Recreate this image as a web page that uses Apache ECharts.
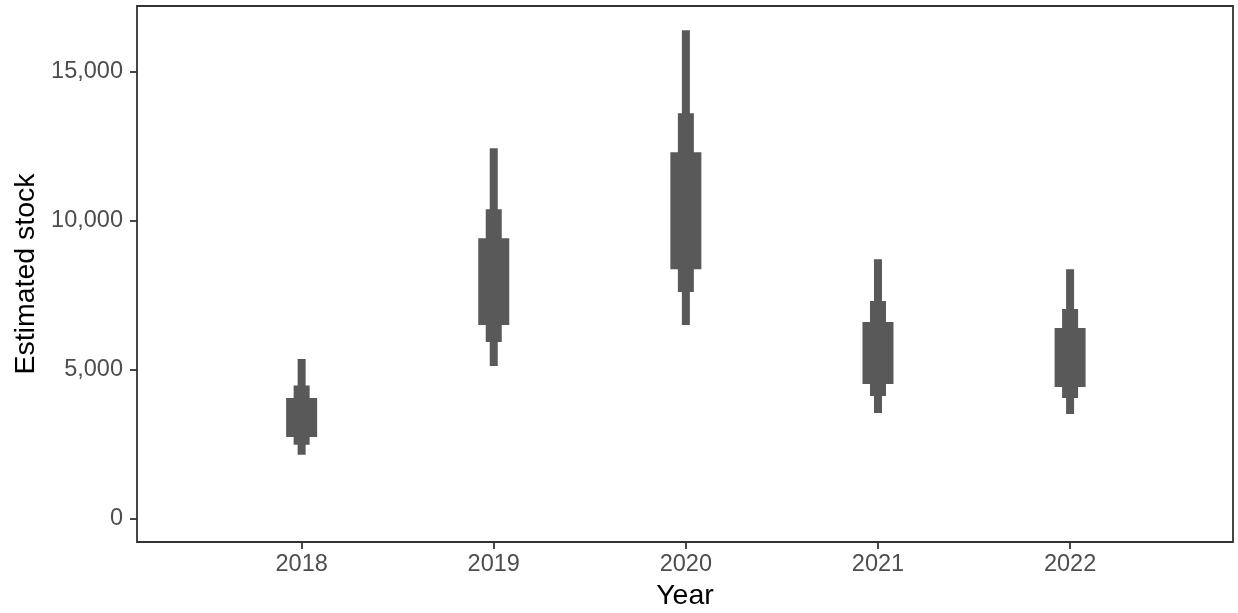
<!DOCTYPE html>
<html>
<head>
<meta charset="utf-8">
<script src="https://cdn.jsdelivr.net/npm/echarts@6/dist/echarts.min.js"></script>
<style>
html,body{margin:0;padding:0;background:#fff;}
#chart{width:1238px;height:613px;}
</style>
</head>
<body>
<div id="chart"></div>
<script>
// Data
var years = [2018, 2019, 2020, 2021, 2022];
// outer (thin) interval
var outerLo = [2145, 5117, 6491, 3542, 3509];
var outerHi = [5352, 12423, 16377, 8703, 8368];
// middle interval
var midLo = [2477, 5922, 7598, 4112, 4045];
var midHi = [4465, 10379, 13596, 7296, 7028];
// inner (thick) interval
var innerLo = [2738, 6491, 8368, 4514, 4414];
var innerHi = [4045, 9407, 12289, 6592, 6391];
var yTicks = [0, 5000, 10000, 15000];

var FONT = '"Liberation Sans", Arial, Helvetica, sans-serif';
var BAR = '#595959';

function rows(lo, hi) {
  return years.map(function (y, i) { return [y, lo[i], hi[i]]; });
}
function intervalSeries(lo, hi, width) {
  return {
    type: 'custom',
    data: rows(lo, hi),
    encode: { x: 0, y: [1, 2] },
    renderItem: function (params, api) {
      var x = api.value(0);
      var a = api.coord([x, api.value(1)]);
      var b = api.coord([x, api.value(2)]);
      return {
        type: 'rect',
        shape: { x: a[0] - width / 2, y: b[1], width: width, height: a[1] - b[1] },
        style: { fill: BAR }
      };
    },
    silent: true
  };
}

var chart = echarts.init(document.getElementById('chart'));
chart.setOption({
  animation: false,
  backgroundColor: '#ffffff',
  grid: {
    left: 137, top: 6, right: 5, bottom: 71,
    outerBoundsMode: 'none',
    containLabel: false,
    show: true, borderColor: '#333333', borderWidth: 1.8, backgroundColor: '#ffffff'
  },
  xAxis: {
    type: 'value',
    min: 2017.143,
    max: 2022.848,
    splitLine: { show: false },
    axisLine: { show: false, onZero: false },
    axisTick: { show: true, inside: false, length: 7, lineStyle: { color: '#333333', width: 1.8 }, customValues: years },
    axisLabel: {
      color: '#4D4D4D', fontSize: 23.5, fontFamily: FONT, margin: 11,
      customValues: years,
      formatter: function (v) { return String(v); }
    },
    name: 'Year',
    nameLocation: 'middle',
    nameGap: 40,
    nameTextStyle: { color: '#000000', fontSize: 28.5, fontFamily: FONT }
  },
  yAxis: {
    type: 'value',
    min: -781,
    max: 17191,
    splitLine: { show: false },
    axisLine: { show: false, onZero: false },
    axisTick: { show: true, inside: false, length: 7, lineStyle: { color: '#333333', width: 1.8 }, customValues: yTicks },
    axisLabel: {
      color: '#4D4D4D', fontSize: 23.5, fontFamily: FONT, margin: 14,
      customValues: yTicks,
      formatter: function (v) { return Number(v).toLocaleString('en-US'); }
    },
    name: 'Estimated stock',
    nameLocation: 'middle',
    nameRotate: 90,
    nameGap: 96,
    nameTextStyle: { color: '#000000', fontSize: 28.5, fontFamily: FONT }
  },
  series: [
    intervalSeries(outerLo, outerHi, 8),
    intervalSeries(midLo, midHi, 16),
    intervalSeries(innerLo, innerHi, 31)
  ]
});
</script>
</body>
</html>
